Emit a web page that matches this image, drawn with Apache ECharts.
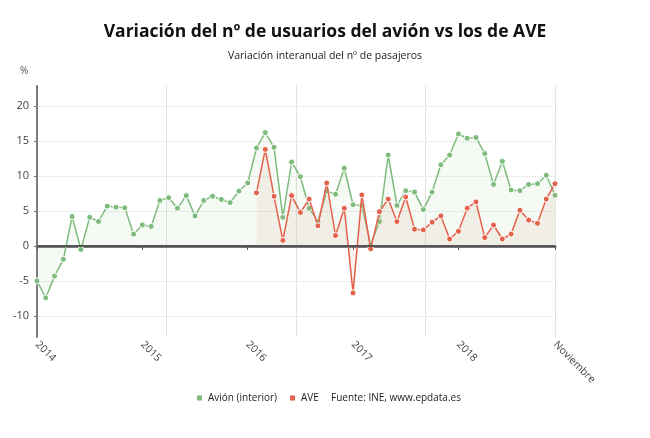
<!DOCTYPE html>
<html>
<head>
<meta charset="utf-8">
<script src="https://cdn.jsdelivr.net/npm/echarts@6/dist/echarts.min.js"></script>
<style>
	html, body { margin: 0; padding: 0; background: #fff; }
	#chart { width: 650px; height: 438px; }
</style>
</head>
<body>
<div id="chart"></div>
<script>
// meses: ene 2014 ... (60 puntos)
var years = ['2014', '2015', '2016', '2017', '2018'];
var months = ['ene', 'feb', 'mar', 'abr', 'may', 'jun', 'jul', 'ago', 'sep', 'oct', 'nov', 'dic'];
var categories = [];
years.forEach(function (y) {
	months.forEach(function (m) { categories.push(m + ' ' + y); });
});

// etiquetas del eje x (índice -> texto)
var tickIndex = [0, 12, 24, 36, 48, 59];
var tickLabels = ['2014', '2015', '2016', '2017', '2018', 'Noviembre'];

// eje y
var yTicks = [-10, -5, 0, 5, 10, 15, 20];

var avion = [
	-5.0, -7.4, -4.3, -1.9, 4.2, -0.5, 4.1, 3.5, 5.7, 5.55, 5.45, 1.7,
	3.0, 2.8, 6.5, 6.9, 5.4, 7.2, 4.3, 6.5, 7.1, 6.65, 6.2, 7.85,
	9.0, 14.0, 16.2, 14.1, 4.1, 12.0, 9.9, 5.4, 3.5, 7.85, 7.4, 11.1,
	5.9, 5.8, 0.15, 3.5, 13.0, 5.8, 7.9, 7.7, 5.2, 7.7, 11.6, 13.0,
	16.0, 15.4, 15.5, 13.2, 8.8, 12.1, 8.0, 7.9, 8.8, 8.9, 10.1, 7.25
];

var ave = [
	null, null, null, null, null, null, null, null, null, null, null, null,
	null, null, null, null, null, null, null, null, null, null, null, null,
	null, 7.6, 13.8, 7.1, 0.8, 7.2, 4.8, 6.7, 2.9, 9.0, 1.5, 5.4,
	-6.7, 7.3, -0.4, 4.9, 6.7, 3.5, 7.0, 2.4, 2.3, 3.4, 4.3, 1.0,
	2.1, 5.4, 6.3, 1.2, 3.0, 1.0, 1.7, 5.1, 3.7, 3.25, 6.7, 8.9
];

var chart = echarts.init(document.getElementById('chart'));
var font = '"Open Sans", "Noto Sans", sans-serif';

function isTick(i) {
	return tickIndex.indexOf(i) >= 0;
}

var option = {
	animation: false,
	textStyle: { fontFamily: font },
	title: {
		text: 'Variación del nº de usuarios del avión vs los de AVE',
		subtext: 'Variación interanual del nº de pasajeros',
		left: 'center',
		top: 18,
		itemGap: 10,
		textStyle: { fontFamily: font, fontSize: 17.5, fontWeight: 'bold', color: '#111' },
		subtextStyle: { fontFamily: font, fontSize: 10.5, color: '#222' }
	},
	legend: {
		left: 195,
		top: 393,
		padding: 0,
		icon: 'rect',
		itemWidth: 7,
		itemHeight: 7,
		itemGap: 11,
		textStyle: { fontFamily: font, fontSize: 10, color: '#222' },
		data: ['Avión (interior)', 'AVE']
	},
	graphic: [
		{
			type: 'text', left: 331, top: 393,
			style: { text: 'Fuente: INE, www.epdata.es', font: '10px ' + font, fill: '#222' }
		},
		{
			type: 'text', left: 20, top: 66,
			style: { text: '%', font: '10px ' + font, fill: '#555' }
		}
	],
	grid: { left: 37, right: 95, top: 85, bottom: 101 },
	xAxis: [
		{
			type: 'category',
			data: categories,
			boundaryGap: false,
			axisLine: { lineStyle: { color: '#777', width: 3 } },
			axisTick: {
				interval: function (i) { return isTick(i); },
				length: 4,
				lineStyle: { color: '#555' }
			},
			axisLabel: {
				interval: function (i) { return isTick(i); },
				formatter: function (v, i) { return tickLabels[tickIndex.indexOf(i)]; },
				rotate: -45,
				margin: 6,
				fontSize: 10.5,
				color: '#444'
			},
			splitLine: { show: false }
		},
		{
			type: 'value',
			min: 0,
			max: 4,
			interval: 1,
			position: 'top',
			axisLine: { show: false },
			axisTick: { show: false },
			axisLabel: { show: false },
			splitLine: { show: true, lineStyle: { color: '#e4e4e4', width: 1 } }
		}
	],
	yAxis: {
		type: 'value',
		min: -13,
		max: 23,
		axisLine: { show: true, lineStyle: { color: '#777', width: 2, type: [2, 1] } },
		axisTick: { show: true, customValues: yTicks, length: 3, lineStyle: { color: '#777' } },
		axisLabel: { customValues: yTicks, fontSize: 11, color: '#444', margin: 8 },
		splitLine: { show: true, lineStyle: { color: '#ddd', type: 'dotted' } }
	},
	series: [
		{
			name: 'Avión (interior)',
			type: 'line',
			data: avion,
			color: '#7dbb7d',
			symbol: 'circle',
			symbolSize: 6,
			showAllSymbol: true,
			lineStyle: { width: 1.5, color: '#7dbb7d' },
			itemStyle: { color: '#7dbb7d', borderColor: '#fff', borderWidth: 1 },
			areaStyle: { color: 'rgba(140,200,140,0.13)' },
			markLine: {
				silent: true,
				symbol: 'none',
				label: { show: false },
				lineStyle: { color: '#555', width: 2, type: 'solid' },
				data: [{ yAxis: 0 }]
			},
			z: 3
		},
		{
			name: 'AVE',
			type: 'line',
			data: ave,
			color: '#e4614b',
			symbol: 'circle',
			symbolSize: 6,
			showAllSymbol: true,
			lineStyle: { width: 1.5, color: '#e4614b' },
			itemStyle: { color: '#e4614b', borderColor: '#fff', borderWidth: 1 },
			areaStyle: { color: 'rgba(210,150,110,0.16)' },
			z: 4
		}
	]
};

chart.setOption(option);
</script>
</body>
</html>
